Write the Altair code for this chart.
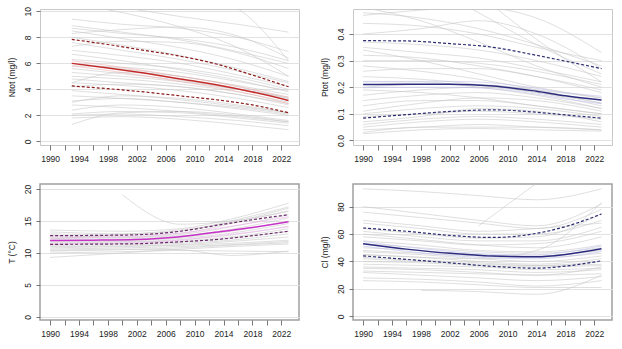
import altair as alt
import pandas as pd

X_DOMAIN = [1988.6, 2024.45]
X_TICKS = list(range(1990, 2023, 2))

# ---------------- Ntot ----------------
N_YEARS = [1993, 2000, 2008, 2016, 2023]
N_LINES = [
    [8.9, 8.4, 7.8, 6.9, 6.0],
    [8.7, 8.3, 7.9, 7.2, 6.2],
    [8.5, 7.9, 7.2, 6.2, 5.0],
    [8.3, 8.6, 8.8, 8.1, 6.4],
    [8.0, 7.4, 6.6, 5.6, 4.6],
    [7.6, 7.0, 6.3, 5.4, 4.5],
    [7.3, 7.7, 7.6, 6.8, 5.6],
    [7.0, 6.6, 6.0, 5.1, 4.2],
    [6.7, 6.2, 5.5, 4.7, 3.8],
    [6.3, 6.0, 5.6, 4.9, 4.0],
    [6.0, 5.6, 5.0, 4.3, 3.6],
    [5.8, 5.7, 5.3, 4.6, 3.9],
    [5.6, 5.2, 4.7, 4.0, 3.3],
    [5.3, 5.0, 4.6, 4.0, 3.4],
    [5.0, 4.8, 4.4, 3.8, 3.0],
    [4.8, 4.5, 4.2, 3.6, 2.8],
    [4.5, 5.3, 5.0, 4.2, 3.3],
    [4.5, 4.3, 3.9, 3.3, 2.6],
    [4.2, 4.4, 4.2, 3.6, 2.9],
    [3.9, 3.6, 3.2, 2.7, 2.2],
    [3.5, 3.3, 3.0, 2.5, 2.0],
    [3.1, 3.3, 3.0, 2.6, 2.1],
    [3.0, 3.5, 3.3, 2.8, 2.2],
    [2.8, 2.6, 2.3, 1.9, 1.5],
    [2.4, 2.8, 2.6, 2.1, 1.6],
    [2.1, 2.3, 2.2, 1.8, 1.4],
    [2.0, 2.1, 1.9, 1.6, 1.2],
    [1.3, 2.2, 2.3, 2.0, 1.5],
    [1.8, 1.9, 1.7, 1.3, 0.9],
    [10.8, 10.3, 9.6, 9.0, 8.4],
    [13.0, 12.5, 11.6, 10.2, 6.2],
    [10.6, 9.9, 8.8, 7.2, 5.0],
    [9.4, 9.0, 8.7, 8.0, 6.9],
]
N_MED_YEARS = [1993, 1998, 2003, 2008, 2013, 2018, 2023]
N_MED = [6.0, 5.65, 5.25, 4.8, 4.35, 3.8, 3.15]
N_UP = [7.84, 7.45, 7.0, 6.55, 5.95, 5.1, 4.2]
N_LO = [4.26, 4.05, 3.8, 3.5, 3.2, 2.8, 2.2]
N_CI_UP = [6.2, 5.85, 5.45, 5.0, 4.55, 4.0, 3.4]
N_CI_LO = [5.8, 5.45, 5.05, 4.6, 4.15, 3.6, 2.9]

# ---------------- Ptot ----------------
P_YEARS = [1990, 1998, 2006, 2014, 2023]
P_LINES = [
    [0.48, 0.46, 0.42, 0.36, 0.28],
    [0.47, 0.49, 0.50, 0.46, 0.33],
    [0.44, 0.43, 0.40, 0.35, 0.30],
    [0.40, 0.42, 0.45, 0.40, 0.27],
    [0.37, 0.36, 0.34, 0.30, 0.24],
    [0.35, 0.33, 0.31, 0.27, 0.22],
    [0.32, 0.31, 0.28, 0.24, 0.18],
    [0.30, 0.30, 0.29, 0.26, 0.21],
    [0.28, 0.26, 0.23, 0.19, 0.14],
    [0.26, 0.27, 0.27, 0.24, 0.19],
    [0.24, 0.23, 0.21, 0.18, 0.13],
    [0.22, 0.22, 0.20, 0.17, 0.12],
    [0.20, 0.21, 0.21, 0.19, 0.16],
    [0.19, 0.18, 0.16, 0.13, 0.10],
    [0.17, 0.19, 0.20, 0.18, 0.14],
    [0.15, 0.17, 0.18, 0.16, 0.12],
    [0.13, 0.15, 0.15, 0.13, 0.10],
    [0.11, 0.14, 0.16, 0.15, 0.11],
    [0.10, 0.12, 0.13, 0.12, 0.09],
    [0.09, 0.10, 0.11, 0.10, 0.08],
    [0.07, 0.09, 0.12, 0.11, 0.07],
    [0.06, 0.08, 0.09, 0.08, 0.06],
    [0.05, 0.07, 0.08, 0.07, 0.05],
    [0.04, 0.05, 0.06, 0.05, 0.04],
    [0.03, 0.05, 0.05, 0.05, 0.04],
    [0.025, 0.04, 0.045, 0.04, 0.035],
    [None, None, 0.55, 0.38, 0.22],
    [None, 0.60, 0.48, 0.36, 0.25],
    [0.50, 0.45, 0.37, 0.28, 0.20],
    [0.34, 0.30, 0.25, 0.20, 0.16],
]
P_MED_YEARS = [1990, 1996, 2002, 2008, 2014, 2018, 2023]
P_MED = [0.21, 0.211, 0.211, 0.205, 0.185, 0.168, 0.152]
P_UP = [0.375, 0.374, 0.364, 0.35, 0.32, 0.298, 0.27]
P_LO = [0.084, 0.097, 0.109, 0.115, 0.106, 0.096, 0.084]
P_CI_UP = [0.222, 0.222, 0.222, 0.216, 0.196, 0.18, 0.166]
P_CI_LO = [0.198, 0.2, 0.2, 0.194, 0.174, 0.156, 0.138]

# ---------------- T ----------------
T_YEARS = [1990, 2000, 2008, 2015, 2023]
T_LINES = [
    [13.6, 13.4, 13.8, 15.3, 17.8],
    [13.3, 13.0, 13.4, 15.0, 17.2],
    [13.0, 12.8, 13.1, 14.6, 16.6],
    [12.8, 12.5, 12.9, 14.1, 16.0],
    [12.5, 12.4, 12.7, 13.7, 15.5],
    [12.3, 12.2, 12.5, 13.4, 15.0],
    [12.0, 12.0, 12.3, 13.1, 14.6],
    [11.8, 11.8, 12.1, 12.8, 14.2],
    [11.6, 11.7, 11.9, 12.5, 13.8],
    [11.4, 11.5, 11.7, 12.3, 13.4],
    [11.2, 11.3, 11.5, 12.0, 13.0],
    [11.0, 11.1, 11.3, 11.8, 12.5],
    [10.8, 11.0, 11.2, 11.5, 12.0],
    [10.6, 10.8, 11.0, 11.3, 11.8],
    [10.3, 10.5, 10.8, 11.2, 11.6],
    [9.3, 10.0, 10.6, 11.0, 11.4],
    [10.0, 10.2, 10.4, 10.3, 10.2],
    [10.4, 10.6, 10.5, 9.6, 10.3],
    [None, 19.1, 14.5, 15.0, 16.5],
    [12.2, 12.9, 13.6, 14.8, 17.0],
]
T_MED_YEARS = [1990, 1996, 2002, 2008, 2014, 2018, 2023]
T_MED = [11.96, 12.0, 12.1, 12.55, 13.4, 14.0, 14.9]
T_UP = [12.7, 12.75, 12.85, 13.4, 14.5, 15.2, 16.0]
T_LO = [11.35, 11.38, 11.45, 11.75, 12.2, 12.7, 13.4]
T_CI_UP = [12.5, 12.5, 12.6, 13.1, 14.0, 14.7, 15.7]
T_CI_LO = [11.4, 11.5, 11.6, 12.0, 12.8, 13.3, 14.1]

# ---------------- Cl ----------------
C_YEARS = [1990, 1998, 2006, 2014, 2023]
C_LINES = [
    [93, 91, 88, 85, 93],
    [80, 75, 70, 66, 82],
    [76, 72, 68, 64, 78],
    [68, 64, 60, 60, 70],
    [64, 60, 57, 58, 75],
    [62, 58, 55, 55, 65],
    [60, 56, 52, 50, 58],
    [58, 55, 52, 53, 62],
    [55, 52, 48, 47, 52],
    [53, 50, 47, 46, 50],
    [50, 48, 45, 44, 48],
    [48, 46, 44, 43, 46],
    [47, 45, 42, 40, 44],
    [45, 43, 40, 38, 42],
    [43, 41, 39, 37, 40],
    [42, 40, 38, 37, 38],
    [40, 39, 37, 36, 37],
    [38, 37, 36, 34, 35],
    [36, 35, 34, 32, 34],
    [35, 34, 32, 30, 31],
    [33, 32, 31, 30, 36],
    [32, 30, 28, 26, 29],
    [28, 27, 25, 22, 26],
    [26, 25, 23, 21, 21],
    [None, 19, 18, 16, 30],
    [None, None, 66, 97, None],
    [45, 43, 42, 48, 83],
    [70, 66, 62, 64, 68],
]
C_MED_YEARS = [1990, 1996, 2002, 2008, 2014, 2018, 2023]
C_MED = [52.9, 49.0, 45.9, 43.9, 43.4, 45.1, 49.3]
C_UP = [64.4, 62.0, 59.0, 57.5, 60.5, 65.4, 74.6]
C_LO = [44.1, 41.5, 39.0, 36.4, 35.1, 36.6, 40.5]
C_CI_UP = [54.6, 50.6, 47.4, 45.3, 44.9, 46.8, 51.4]
C_CI_LO = [51.2, 47.4, 44.4, 42.5, 41.9, 43.4, 47.2]

FONT = "Liberation Sans"
GREY = "#c6c6c6"


def long_lines(years, lines):
    rows = []
    for i, vals in enumerate(lines):
        for yr, v in zip(years, vals):
            if v is not None:
                rows.append({"id": i, "year": yr, "v": v})
    return pd.DataFrame(rows)


def stat_frame(years, med, up, lo, ci_up, ci_lo):
    rows = []
    for name, vals in [("med", med), ("up", up), ("lo", lo), ("ci_up", ci_up), ("ci_lo", ci_lo)]:
        for yr, v in zip(years, vals):
            rows.append({"s": name, "year": yr, "v": v})
    return pd.DataFrame(rows)


def panel(lines_df, stats_df, ydom, yticks, yfmt, ytitle, main_color, dash_color, ci_color, frame_color, frame_w):
    xaxis = alt.Axis(
        values=X_TICKS,
        labelExpr="(datum.value - 1990) % 4 == 0 ? toString(datum.value) : ''",
        grid=False, domain=False, tickSize=5, tickColor="#555", tickWidth=0.8,
        labelFont=FONT, labelFontSize=8.5, labelColor="#222", labelPadding=4,
        labelFlush=False, labelOverlap=False, title=None,
    )
    yaxis = alt.Axis(
        values=yticks, format=yfmt, title=ytitle,
        grid=True, gridColor="#e2e2e2", gridWidth=1,
        domain=False, tickSize=4, tickColor="#555", tickWidth=0.8,
        labelAngle=270, labelAlign="center", labelBaseline="bottom",
        labelPadding=4, labelFont=FONT, labelFontSize=8.5, labelColor="#222",
        labelFlush=False, labelOverlap=False,
        titleFont=FONT, titleFontSize=8.5, titleFontWeight="normal", titleColor="#222",
        titlePadding=7,
    )
    x = alt.X("year:Q", scale=alt.Scale(domain=X_DOMAIN, nice=False, zero=False), axis=xaxis)
    y = alt.Y("v:Q", scale=alt.Scale(domain=ydom, nice=False, zero=False), axis=yaxis)

    grey = alt.Chart(lines_df).mark_line(
        clip=True, interpolate="monotone", color=GREY, strokeWidth=0.7, opacity=0.8
    ).encode(x=x, y=y, detail="id:N")
    base = alt.Chart(stats_df)
    ci = base.transform_filter(
        alt.FieldOneOfPredicate(field="s", oneOf=["ci_up", "ci_lo"])
    ).mark_line(clip=True, interpolate="monotone", color=ci_color, strokeWidth=0.9, opacity=0.6).encode(
        x=x, y=y, detail="s:N")
    dash = base.transform_filter(
        alt.FieldOneOfPredicate(field="s", oneOf=["up", "lo"])
    ).mark_line(clip=True, interpolate="monotone", color=dash_color, strokeWidth=1.2,
                strokeDash=[3, 2]).encode(x=x, y=y, detail="s:N")
    med = base.transform_filter(
        alt.FieldEqualPredicate(field="s", equal="med")
    ).mark_line(clip=True, interpolate="monotone", color=main_color, strokeWidth=1.5).encode(x=x, y=y)
    return alt.layer(grey, ci, dash, med).properties(
        width=259, height=136,
        view=alt.ViewBackground(stroke=frame_color, strokeWidth=frame_w),
    )


p1 = panel(long_lines(N_YEARS, N_LINES), stat_frame(N_MED_YEARS, N_MED, N_UP, N_LO, N_CI_UP, N_CI_LO),
           [-0.28, 10.18], [0, 2, 4, 6, 8, 10], "d", "Ntot (mg/l)",
           "#c42a2a", "#8b1a1a", "#f0a8a8", "#c8c8c8", 1)
p2 = panel(long_lines(P_YEARS, P_LINES), stat_frame(P_MED_YEARS, P_MED, P_UP, P_LO, P_CI_UP, P_CI_LO),
           [-0.017, 0.494], [0.0, 0.1, 0.2, 0.3, 0.4], ".1f", "Ptot (mg/l)",
           "#2b2b80", "#2b2b70", "#b8b8ec", "#c8c8c8", 1)
p3 = panel(long_lines(T_YEARS, T_LINES), stat_frame(T_MED_YEARS, T_MED, T_UP, T_LO, T_CI_UP, T_CI_LO),
           [-0.5, 20.8], [0, 5, 10, 15, 20], "d", "T (°C)",
           "#c832c8", "#6a2a6a", "#f0a8f0", "#a0a0a0", 1.5)
p4 = panel(long_lines(C_YEARS, C_LINES), stat_frame(C_MED_YEARS, C_MED, C_UP, C_LO, C_CI_UP, C_CI_LO),
           [-2.7, 96.5], [0, 20, 40, 60, 80], "d", "Cl (mg/l)",
           "#2b2b80", "#2b2b70", "#b8b8ec", "#a0a0a0", 1.5)

chart = alt.concat(p1, p2, p3, p4, columns=2).properties(
    spacing=alt.RowColnumber(row=39, column=54),
    bounds="flush",
    padding={"left": 6, "top": 6, "right": 2, "bottom": 2},
    background="white",
)

chart.save("out.html", embed_options={"renderer": "svg", "actions": False})
